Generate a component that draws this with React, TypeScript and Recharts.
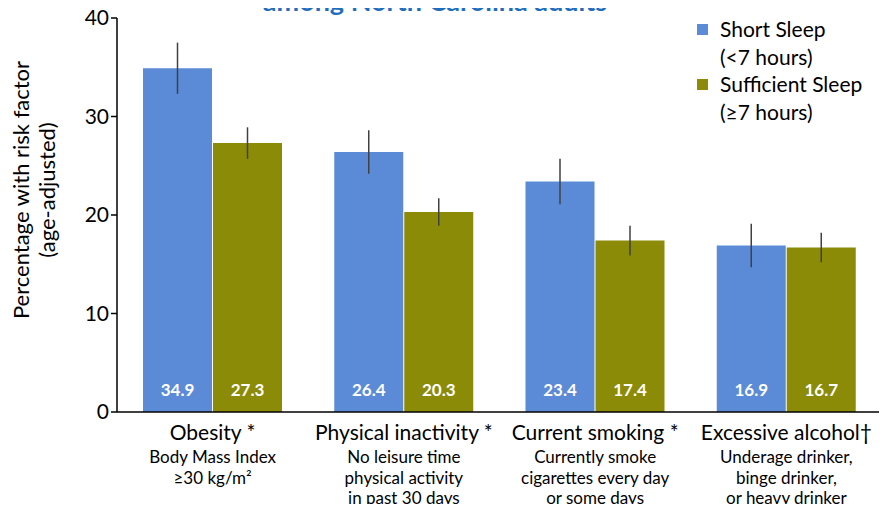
import React from 'react';
import { BarChart, Bar, XAxis, YAxis, ErrorBar, LabelList } from 'recharts';

const categories = ['Obesity *', 'Physical inactivity *', 'Current smoking *', 'Excessive alcohol†'];
const subLabels = [
  ['Body Mass Index', '≥30 kg/m²'],
  ['No leisure time', 'physical activity', 'in past 30 days'],
  ['Currently smoke', 'cigarettes every day', 'or some days'],
  ['Underage drinker,', 'binge drinker,', 'or heavy drinker'],
];
const shortSleep = [34.9, 26.4, 23.4, 16.9];
const shortErr = [2.6, 2.2, 2.3, 2.2];
const sufficientSleep = [27.3, 20.3, 17.4, 16.7];
const sufficientErr = [1.6, 1.4, 1.5, 1.5];
const yTicks = [0, 10, 20, 30, 40];

const data = categories.map((name, i) => ({
  name,
  shortSleep: shortSleep[i],
  shortErr: shortErr[i],
  sufficientSleep: sufficientSleep[i],
  sufficientErr: sufficientErr[i],
}));

const FONT = 'Lato, "Open Sans", sans-serif';
const BLUE = '#5b8ad6';
const OLIVE = '#8b8b08';

const CategoryTick = (props: any) => {
  const { x, y, payload, index } = props;
  const lines = subLabels[index] || [];
  return (
    <g fontFamily={FONT} textAnchor="middle" fill="#000">
      <text x={x} y={y + 20} fontSize={21}>{payload.value}</text>
      {lines.map((l, i) => (
        <text key={i} x={x} y={y + 43 + i * 20.5} fontSize={17}>{l}</text>
      ))}
    </g>
  );
};

const ValueLabel = (props: any) => {
  const { x, y, width, height, value } = props;
  return (
    <text
      x={x + width / 2}
      y={y + height - 16}
      textAnchor="middle"
      fill="#fff"
      fontSize={17}
      fontWeight="bold"
      fontFamily={FONT}
    >
      {value.toFixed(1)}
    </text>
  );
};

const YLabel = () => (
  <g fontFamily={FONT} fontSize={22} fill="#000" textAnchor="middle">
    <text transform="translate(29,190) rotate(-90)">Percentage with risk factor</text>
    <text transform="translate(55,190) rotate(-90)">(age-adjusted)</text>
  </g>
);

const LegendBox = () => (
  <div
    style={{
      position: 'absolute',
      left: 697,
      top: 15,
      fontFamily: FONT,
      fontSize: 21,
      color: '#000',
      lineHeight: '27.5px',
    }}
  >
    {[
      [BLUE, 'Short Sleep', '(<7 hours)'],
      [OLIVE, 'Sufficient Sleep', '(≥7 hours)'],
    ].map(([c, a, b]) => (
      <div key={a} style={{ position: 'relative', paddingLeft: 23 }}>
        <span
          style={{ position: 'absolute', left: 0, top: 9, width: 11, height: 11, background: c }}
        />
        <div>{a}</div>
        <div>{b}</div>
      </div>
    ))}
  </div>
);

export default function App() {
  return (
    <div style={{ margin: -8, position: 'relative', width: 887, height: 512, overflow: 'hidden' }}>
      <BarChart
        width={887}
        height={512}
        data={data}
        margin={{ top: 18, right: 5, bottom: 0, left: 0 }}
        barSize={69}
        barGap={1}
      >
        <XAxis
          dataKey="name"
          interval={0}
          height={100}
          tickLine={false}
          axisLine={{ stroke: '#000', strokeWidth: 1.5 }}
          tick={<CategoryTick />}
        />
        <YAxis
          width={117}
          domain={[0, 40]}
          ticks={yTicks}
          tickSize={6}
          axisLine={{ stroke: '#000', strokeWidth: 1.5 }}
          tickLine={{ stroke: '#000', strokeWidth: 1.5 }}
          tick={{ fontSize: 21, fill: '#000', fontFamily: FONT }}
          label={<YLabel />}
        />
        <Bar dataKey="shortSleep" name="Short Sleep" fill={BLUE} isAnimationActive={false}>
          <ErrorBar dataKey="shortErr" width={0} stroke="#404040" strokeWidth={1.5} direction="y" />
          <LabelList dataKey="shortSleep" content={<ValueLabel />} />
        </Bar>
        <Bar dataKey="sufficientSleep" name="Sufficient Sleep" fill={OLIVE} isAnimationActive={false}>
          <ErrorBar dataKey="sufficientErr" width={0} stroke="#404040" strokeWidth={1.5} direction="y" />
          <LabelList dataKey="sufficientSleep" content={<ValueLabel />} />
        </Bar>
      </BarChart>
      <div
        style={{
          position: 'absolute',
          top: -12,
          left: 258,
          width: 354,
          textAlign: 'center',
          whiteSpace: 'nowrap',
          fontFamily: FONT,
          fontWeight: 'bold',
          fontSize: 27,
          lineHeight: '26px',
          color: '#1f6dbd',
        }}
      >
        among North Carolina adults
      </div>
      <LegendBox />
    </div>
  );
}
